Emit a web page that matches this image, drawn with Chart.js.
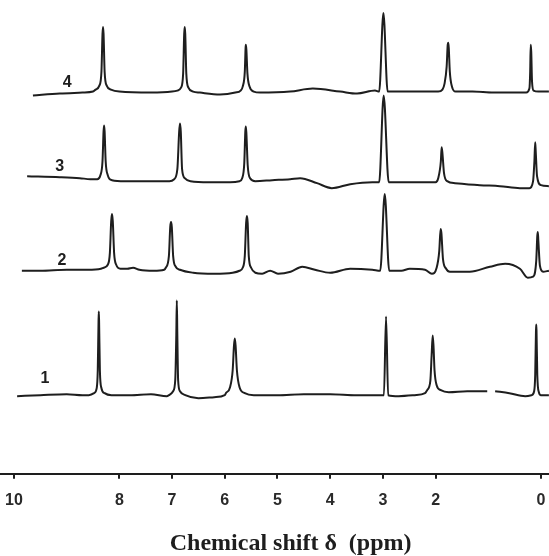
<!DOCTYPE html>
<html>
<head>
<meta charset="utf-8">
<script src="https://cdn.jsdelivr.net/npm/chart.js@4.4.0/dist/chart.umd.min.js"></script>
<style>
  html, body { margin: 0; padding: 0; background: #fff; }
  #wrap { width: 549px; height: 556px; position: relative; }
</style>
</head>
<body>
<div id="wrap"><canvas id="nmrChart"></canvas></div>
<script>
// chemical shift ticks shown on the axis (ppm)
const shiftTicks = [10, 8, 7, 6, 5, 4, 3, 2, 0];
const traceNames = ["1", "2", "3", "4"];
// vertical offset of each trace's baseline (same units as intensity)
const traceOffsets = [79, 204, 294, 384];
// where the number label of each trace sits: [ppm, height above baseline]
const labelSpots = [[9.41, 17], [9.09, 10], [9.13, 15], [8.99, 9]];

// [ppm, intensity above baseline], null = pen gap
const spectrum1 = [
  [9.94, -1], [9.5, 0], [9.0, 1], [8.7, 0],
  [8.58, 0], [8.48, 2], [8.43, 7], [8.41, 25], [8.395, 75], [8.39, 84], [8.385, 75], [8.37, 25], [8.34, 7], [8.28, 2], [8.15, 0],
  [7.8, 0], [7.4, 1], [7.1, -1],
  [7.06, 0], [6.98, 4], [6.94, 15], [6.92, 60], [6.91, 95], [6.90, 60], [6.885, 15], [6.85, 4], [6.75, 0],
  [6.5, -3], [6.2, -2], [6.0, 0],
  [5.98, 2], [5.90, 8], [5.85, 25], [5.825, 50], [5.81, 57], [5.795, 50], [5.77, 25], [5.72, 8], [5.62, 2], [5.45, 0],
  [5.0, 0], [4.5, 1], [4.0, 1], [3.5, 0], [3.1, 0],
  [2.98, 0], [2.94, 79], [2.90, 0],
  [2.7, -1], [2.4, 0], [2.2, 2],
  [2.16, 5], [2.10, 14], [2.075, 40], [2.055, 60], [2.04, 50], [2.02, 25], [1.98, 10], [1.9, 5], [1.75, 3],
  [1.4, 4], [1.02, 4], [0.95, null], [0.87, 4], [0.6, 2], [0.3, -1], [0.18, 0],
  [0.13, 4], [0.11, 20], [0.095, 65], [0.09, 71], [0.085, 65], [0.07, 20], [0.04, 3], [0.0, 0], [-0.15, 0]
];
const spectrum2 = [
  [9.85, 0], [9.5, 0], [9.0, 1], [8.6, 1], [8.35, 2],
  [8.30, 3], [8.22, 6], [8.18, 18], [8.155, 50], [8.14, 57], [8.125, 50], [8.10, 18], [8.06, 6], [7.98, 2],
  [7.85, 2], [7.74, 3], [7.62, 1], [7.35, 0], [7.15, 1],
  [7.12, 3], [7.06, 15], [7.035, 44], [7.02, 49], [7.005, 44], [6.98, 15], [6.93, 4], [6.85, 1],
  [6.6, -2], [6.2, -3], [5.85, -2], [5.72, 0],
  [5.66, 3], [5.62, 15], [5.595, 48], [5.58, 55], [5.565, 48], [5.545, 15], [5.50, 3], [5.42, -2],
  [5.29, -3], [5.14, 0], [4.99, -3], [4.75, -1], [4.53, 4], [4.29, 1], [4.0, -2], [3.62, 2], [3.2, 1],
  [3.05, 0], [2.965, 77], [2.88, 0],
  [2.65, 0], [2.49, 2], [2.2, 1], [2.07, -3],
  [1.98, 3], [1.93, 20], [1.905, 42], [1.89, 38], [1.86, 12], [1.80, 2], [1.73, -1],
  [1.35, -1], [0.97, 4], [0.68, 7], [0.4, 2], [0.25, -7], [0.15, -6],
  [0.09, 10], [0.07, 35], [0.06, 39], [0.05, 30], [0.02, 5], [-0.04, -1], [-0.15, 0]
];
const spectrum3 = [
  [9.75, 5], [9.13, 4], [8.75, 3], [8.55, 2],
  [8.42, 2], [8.36, 6], [8.32, 20], [8.30, 50], [8.29, 56], [8.28, 50], [8.26, 20], [8.22, 6], [8.14, 1],
  [7.9, 0], [7.4, 0], [7.05, 0],
  [6.96, 2], [6.90, 12], [6.865, 50], [6.85, 58], [6.835, 50], [6.81, 12], [6.76, 3], [6.65, 0],
  [6.3, -1], [5.9, -1], [5.72, 0],
  [5.67, 3], [5.63, 18], [5.61, 50], [5.60, 55], [5.59, 48], [5.565, 16], [5.52, 3], [5.42, 0],
  [5.1, 1], [4.76, 2], [4.57, 3], [4.25, -2], [3.97, -7], [3.62, -3], [3.2, -1],
  [3.07, -1], [2.985, 86], [2.89, -1],
  [2.6, -1], [2.2, -1], [2.0, -1],
  [1.95, 3], [1.90, 20], [1.885, 34], [1.87, 28], [1.84, 8], [1.78, 0],
  [1.63, -2], [1.16, -4], [0.78, -5], [0.4, -7], [0.22, -7],
  [0.15, 0], [0.125, 20], [0.11, 39], [0.10, 30], [0.075, 5], [0.0, -4], [-0.15, -5]
];
const spectrum4 = [
  [9.64, -4], [9.13, -2], [8.7, -1], [8.5, 0],
  [8.45, 2], [8.38, 6], [8.34, 20], [8.32, 58], [8.31, 65], [8.30, 58], [8.28, 20], [8.24, 6], [8.16, 2], [8.0, 0],
  [7.4, -1], [7.0, 0], [6.9, 1],
  [6.83, 4], [6.79, 18], [6.77, 58], [6.76, 65], [6.75, 58], [6.73, 18], [6.69, 4], [6.6, 0],
  [6.47, -1], [6.09, -3], [5.8, -1], [5.70, 1],
  [5.66, 5], [5.62, 20], [5.605, 44], [5.60, 47], [5.59, 42], [5.57, 18], [5.53, 5], [5.45, 0],
  [5.33, -1], [4.76, 0], [4.33, 3], [3.81, 0], [3.49, -2], [3.15, 1],
  [3.07, 0], [2.99, 79], [2.91, 0],
  [2.77, 0], [2.2, 0], [1.95, 0], [1.87, 2],
  [1.83, 8], [1.79, 25], [1.77, 47], [1.76, 49], [1.75, 44], [1.73, 20], [1.69, 5], [1.62, 0],
  [1.3, 0], [0.9, -1], [0.5, -1], [0.28, -1],
  [0.22, 3], [0.205, 20], [0.195, 47], [0.185, 40], [0.17, 10], [0.14, 1], [0.05, 0], [-0.15, 0]
];
const spectra = [spectrum1, spectrum2, spectrum3, spectrum4];

const ink = "#1e1e1e";

const traceLabels = {
  id: "traceLabels",
  afterDatasetsDraw(chart) {
    const { ctx, scales: { x, y } } = chart;
    ctx.save();
    ctx.fillStyle = ink;
    ctx.font = "bold 16px 'Liberation Sans', sans-serif";
    ctx.textAlign = "center";
    ctx.textBaseline = "middle";
    labelSpots.forEach(([ppm, h], i) => {
      ctx.fillText(traceNames[i], x.getPixelForValue(ppm), y.getPixelForValue(traceOffsets[i] + h));
    });
    // axis title, drawn under the tick labels
    ctx.font = "bold 24px 'Liberation Serif', serif";
    ctx.fillText("Chemical shift \u03b4  (ppm)", x.getPixelForValue(4.75), chart.height - 12);
    ctx.restore();
  }
};

new Chart(document.getElementById("nmrChart"), {
  type: "line",
  data: {
    datasets: spectra.map((s, i) => ({
      label: traceNames[i],
      data: s.map(([ppm, v]) => ({ x: ppm, y: v === null ? null : traceOffsets[i] + v })),
      borderColor: ink,
      borderWidth: 2,
      pointRadius: 0,
      cubicInterpolationMode: "monotone",
      spanGaps: false
    }))
  },
  options: {
    responsive: true,
    maintainAspectRatio: false,
    animation: false,
    layout: { padding: { top: 0, left: 0, right: 0, bottom: 34 } },
    plugins: { legend: { display: false }, tooltip: { enabled: false } },
    scales: {
      x: {
        type: "linear",
        reverse: true,
        min: -0.152,
        max: 10.265,
        afterBuildTicks: (axis) => { axis.ticks = shiftTicks.map(v => ({ value: v })); },
        afterFit: (axis) => { axis.paddingLeft = 0; axis.paddingRight = 0; },
        border: { color: ink, width: 2 },
        grid: { drawOnChartArea: false, drawTicks: true, tickLength: 5, color: ink, lineWidth: 2 },
        ticks: {
          color: "#2a2a2a",
          padding: 12,
          maxRotation: 0,
          autoSkip: false,
          font: { family: "'Liberation Sans', sans-serif", size: 16, weight: "bold" }
        }
      },
      y: { display: false, min: 0, max: 476 }
    }
  },
  plugins: [traceLabels]
});
</script>
</body>
</html>
